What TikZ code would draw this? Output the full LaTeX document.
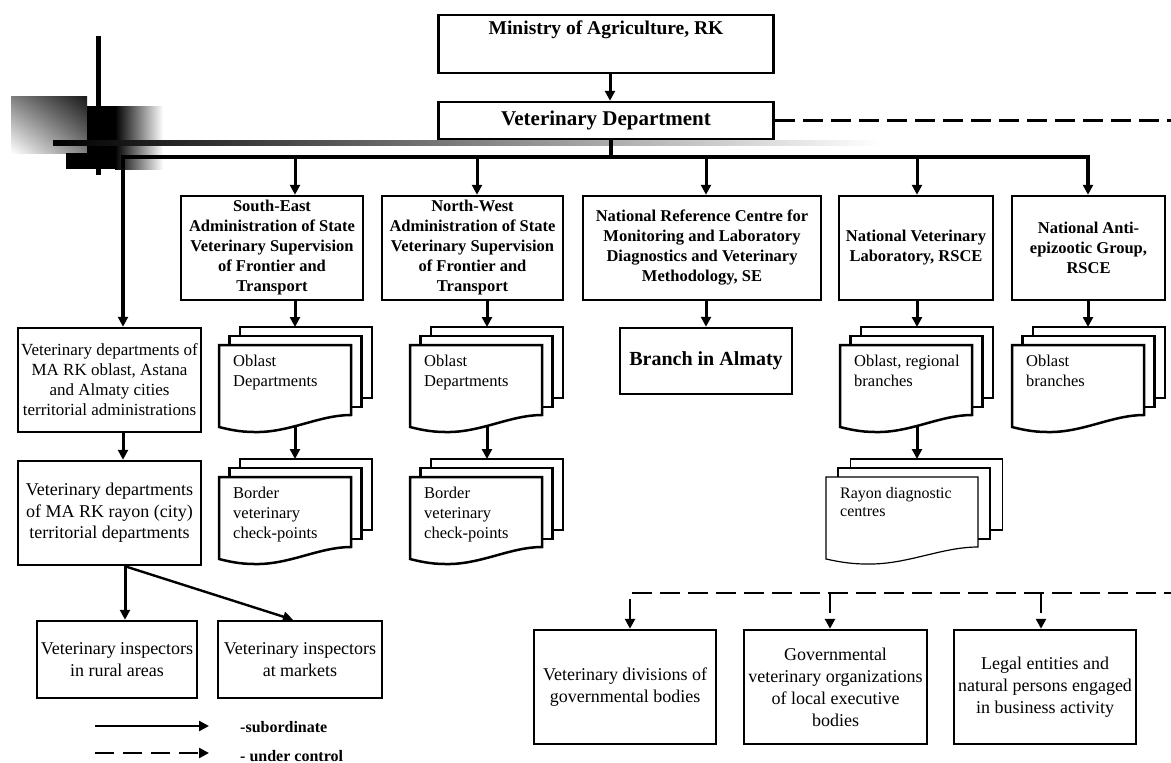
\documentclass[tikz,border=0pt]{standalone}
\usepackage{fontspec}
\setmainfont{Liberation Serif}
\usetikzlibrary{arrows.meta,shadings}
\tikzset{
 box/.style={draw, line width=2.5pt, fill=white, inner sep=0pt, align=center},
 arr/.style={line width=3pt, -{Triangle[length=10pt,width=10pt]}},
 darr/.style={line width=2.8pt, dash pattern=on 20pt off 8pt, -{Triangle[length=10pt,width=10pt]}},
 dline/.style={line width=2.8pt, dash pattern=on 20pt off 8pt},
 tb/.style={font=\fontsize{16.5}{20}\selectfont\bfseries},
}
\newcommand{\mdoc}[8]{%
 \begin{scope}[shift={(#2,#3)}, xscale=#4/132, line width=#5]
  \draw[fill=white] (21,-18) rectangle (153,53);
  \draw[fill=white] (10.5,-9) rectangle (142.5,62);
  \draw[fill=white] (0,0) -- (132,0) -- (132,70) .. controls (100,70) and (70,88) .. (35,87) .. controls (20,87) and (8,84) .. (0,82) -- cycle;
 \end{scope}
 \node[anchor=north west, inner sep=0pt, align=left, font=#6] (#1) at ({#2+14},{#3+10}) {#7};
 \coordinate (#1-in) at (#8,{#3-18});
 \coordinate (#1-out) at (#8,{#3+81.5});
}
\begin{document}
\begin{tikzpicture}[x=1pt,y=-1pt]
\useasboundingbox (0,0) rectangle (1171,763);
% decoration
\shade[upper left=black!50, upper right=black!90, lower left=white, lower right=black!50] (11,96) rectangle (87,153);
\fill[black] (87,106) rectangle (115,169);
\fill[black] (66,153) rectangle (87,169);
\shade[left color=black, right color=white] (115,106) rectangle (163,169);
\fill[black] (96,36) rectangle (101,175);
\shade[left color=black, right color=white] (53,140) rectangle (880,145);

% top boxes
\node[box, minimum width=335, minimum height=58] (min) at (606,44) {};
\node[font=\fontsize{19.5}{22}\selectfont\bfseries] (mint) at (606,30) {Ministry of Agriculture, RK};
\node[box, minimum width=335, minimum height=37, font=\fontsize{21}{24}\selectfont\bfseries] (vd) at (606,120.5) {Veterinary Department};

\node[box, tb, minimum width=182, minimum height=104] (se) at (272,248) {South-East\\Administration of State\\Veterinary Supervision\\of Frontier and\\Transport};
\node[box, tb, minimum width=181, minimum height=104] (nw) at (472.5,248) {North-West\\Administration of State\\Veterinary Supervision\\of Frontier and\\Transport};
\node[box, tb, minimum width=238, minimum height=104] (nrc) at (702,248) {National Reference Centre for\\Monitoring and Laboratory\\Diagnostics and Veterinary\\Methodology, SE};
\node[box, tb, minimum width=154, minimum height=104] (nvl) at (916,248) {National Veterinary\\Laboratory, RSCE};
\node[box, tb, minimum width=153, minimum height=104] (nag) at (1088.5,248) {National Anti-\\epizootic Group,\\RSCE};
\node[box, minimum width=172, minimum height=66, font=\fontsize{20}{24}\selectfont\bfseries] (br) at (706,361) {Branch in Almaty};

% left column
\node[box, minimum width=183, minimum height=104, font=\fontsize{17}{20}\selectfont] (vo) at (109.5,380) {Veterinary departments of\\MA RK oblast, Astana\\and Almaty cities\\territorial administrations};
\node[box, minimum width=183, minimum height=104, font=\fontsize{18}{21.5}\selectfont] (vr) at (109.5,513) {Veterinary departments\\of MA RK rayon (city)\\territorial departments};
\node[box, minimum width=160, minimum height=77, font=\fontsize{18}{22}\selectfont] (vir) at (117,659.5) {Veterinary inspectors\\in rural areas};
\node[box, minimum width=164, minimum height=77, font=\fontsize{18}{22}\selectfont] (vim) at (300,659.5) {Veterinary inspectors\\at markets};

% bottom right
\node[box, minimum width=182, minimum height=114, font=\fontsize{18}{22}\selectfont] (b1) at (625,687) {Veterinary divisions of\\governmental bodies};
\node[box, minimum width=183, minimum height=114, font=\fontsize{18}{22}\selectfont] (b2) at (835.5,687) {Governmental\\veterinary organizations\\of local executive\\bodies};
\node[box, minimum width=182, minimum height=114, font=\fontsize{18}{22}\selectfont] (b3) at (1045,687) {Legal entities and\\natural persons engaged\\in business activity};

% documents
\mdoc{seo}{219}{345}{132}{2.5pt}{\fontsize{16.5}{20}\selectfont}{Oblast\\Departments}{295}
\mdoc{seb}{219}{477}{132}{2.5pt}{\fontsize{16.5}{20}\selectfont}{Border\\veterinary\\check-points}{295}
\mdoc{nwo}{410}{345}{132}{2.5pt}{\fontsize{16.5}{20}\selectfont}{Oblast\\Departments}{487}
\mdoc{nwb}{410}{477}{132}{2.5pt}{\fontsize{16.5}{20}\selectfont}{Border\\veterinary\\check-points}{487}
\mdoc{nvlo}{840}{345}{132}{2.5pt}{\fontsize{16.5}{20}\selectfont}{Oblast, regional\\branches}{917}
\mdoc{nago}{1012}{345}{132}{2.5pt}{\fontsize{16.5}{20}\selectfont}{Oblast\\branches}{1088}
\mdoc{ray}{826}{477}{152}{1.2pt}{\fontsize{16}{18}\selectfont}{Rayon diagnostic\\centres}{917}

% connectors
\coordinate (busL) at (123,157);
\coordinate (busR) at (1088,157);
\draw[arr] ([xshift=4pt]min.south) -- ([xshift=4pt]vd.north);
\draw[line width=3.2pt] ([xshift=5pt]vd.south) -- ([xshift=5pt]vd.south |- busL);
\draw[arr, line width=3.2pt] (busR) -- (busL) -- (busL |- vo.north);
\draw[arr, line width=3.2pt] (busL) -- (busR) -- (busR |- nag.north);
\path ([xshift=23pt]se.north) coordinate (a-se);
\path ([xshift=4.5pt]nw.north) coordinate (a-nw);
\path ([xshift=4pt]nrc.north) coordinate (a-nrc);
\path ([xshift=1pt]nvl.north) coordinate (a-nvl);
\draw[arr] (busL -| a-se) -- (a-se);
\draw[arr] (busL -| a-nw) -- (a-nw);
\draw[arr] (busL -| a-nrc) -- (a-nrc);
\draw[arr] (busL -| a-nvl) -- (a-nvl);

\draw[arr] (se.south -| seo-in) -- (seo-in);
\draw[arr] (seo-out) -- (seb-in);
\draw[arr] (nw.south -| nwo-in) -- (nwo-in);
\draw[arr] (nwo-out) -- (nwb-in);
\draw[arr] (nrc.south -| br.north) -- (br.north);
\draw[arr] (nvl.south -| nvlo-in) -- (nvlo-in);
\draw[arr] (nvlo-out) -- (ray-in);
\draw[arr] (nag.south -| nago-in) -- (nago-in);

\path ([xshift=13.5pt]vo.south) coordinate (vo-o);
\draw[arr] (vo-o) -- (vo-o |- vr.north);
\path ([xshift=15.5pt]vr.south) coordinate (vr-o);
\draw[arr] (vr-o) -- (vr-o |- vir.north);
\draw[arr, line width=2.4pt] (vr-o) -- ([xshift=-7pt]vim.north);

% dashed control lines
\coordinate (edgeT) at (1171,120.5);
\coordinate (edgeB) at (1171,593);
\draw[dline] (vd.east) -- (edgeT);
\path ([xshift=5pt]b1.north) coordinate (d1);
\path ([xshift=-5.5pt]b2.north) coordinate (d2);
\path ([xshift=-4pt]b3.north) coordinate (d3);
\draw[dline, {Triangle[length=10pt,width=10pt]}-] (d1) -- (d1 |- edgeB) -- (edgeB);
\draw[darr] (d2 |- edgeB) -- (d2);
\draw[darr] (d3 |- edgeB) -- (d3);

% legend
\coordinate (l1a) at (95,726);
\coordinate (l1b) at (209,726);
\coordinate (l2a) at (95,753);
\coordinate (l2b) at (209,753);
\draw[arr, line width=2.4pt] (l1a) -- (l1b);
\draw[darr, line width=2.4pt, dash pattern=on 19pt off 9pt] (l2a) -- (l2b);
\node[anchor=west, inner sep=0pt, font=\fontsize{16}{18}\selectfont\bfseries] (l1t) at (240,727) {-subordinate};
\node[anchor=west, inner sep=0pt, font=\fontsize{16}{18}\selectfont\bfseries] (l2t) at (240,756) {- under control};
\end{tikzpicture}
\end{document}
